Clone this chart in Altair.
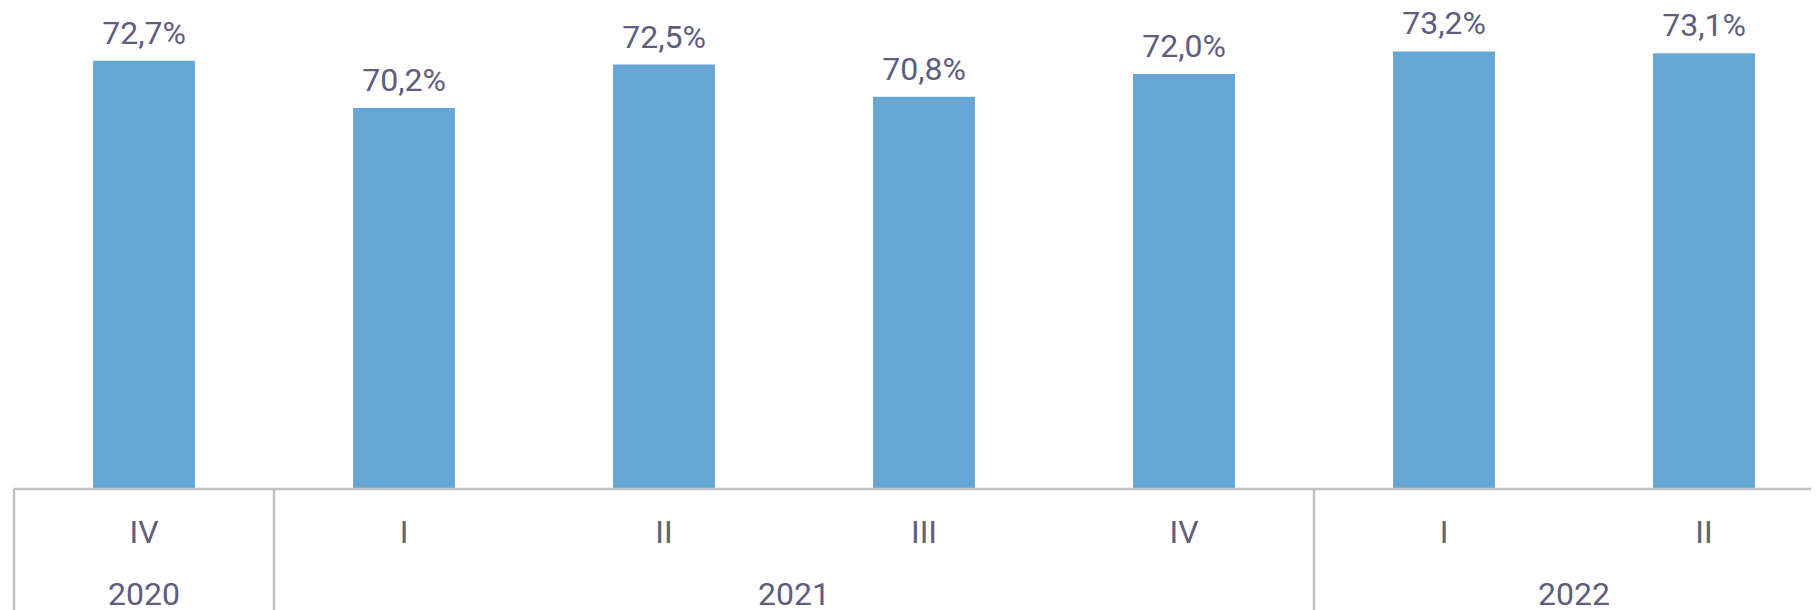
import altair as alt
import pandas as pd

quarters = ["IV", "I", "II", "III", "IV", "I", "II"]
years = ["2020", "2021", "2021", "2021", "2021", "2022", "2022"]
values = [72.7, 70.2, 72.5, 70.8, 72.0, 73.2, 73.1]
labels = ["72,7%", "70,2%", "72,5%", "70,8%", "72,0%", "73,2%", "73,1%"]

BAR = "#67a7d6"
TXT = "#5f5c7e"
LINE = "#c0c0c0"
FONT = "Roboto"

df = pd.DataFrame({"idx": list(range(len(values))), "quarter": quarters,
                   "year": years, "value": values, "label": labels})
df["x0"] = df["idx"] - 0.196
df["x1"] = df["idx"] + 0.196

yr = df.groupby("year", as_index=False).agg(center=("idx", "mean"), start=("idx", "min"), end=("idx", "max"))
yr["left"] = yr["start"] - 0.5
yr["right"] = yr["end"] + 0.5

W, H = 1797, 481
xs = alt.Scale(domain=[-0.5, 6.5], range=[0, 1820], nice=False, zero=False)
ys = alt.Scale(domain=[50, 75.5], nice=False, zero=False)

base = alt.Chart(df)

bars = base.mark_bar(color=BAR).encode(
    x=alt.X("x0:Q", scale=xs, axis=None),
    x2="x1:Q",
    y=alt.Y("value:Q", scale=ys, axis=None),
    y2=alt.datum(50),
)

vals = base.mark_text(font=FONT, fontSize=32, color=TXT, baseline="alphabetic", dy=-17).encode(
    x=alt.X("idx:Q", scale=xs),
    y=alt.Y("value:Q", scale=ys),
    text="label:N",
)

qlab = base.mark_text(font=FONT, fontSize=32, color=TXT, baseline="alphabetic").encode(
    x=alt.X("idx:Q", scale=xs),
    y=alt.value(535),
    text="quarter:N",
)

ychart = alt.Chart(yr)
ylab = ychart.mark_text(font=FONT, fontSize=32, color=TXT, baseline="alphabetic").encode(
    x=alt.X("center:Q", scale=xs),
    y=alt.value(597),
    text="year:N",
)

hline = ychart.mark_rule(color=LINE, strokeWidth=2.5).encode(
    x=alt.X("left:Q", scale=xs),
    x2="right:Q",
    y=alt.datum(50),
)

vlines = ychart.mark_rule(color=LINE, strokeWidth=2.5).encode(
    x=alt.X("left:Q", scale=xs),
    y=alt.value(481),
    y2=alt.value(610),
)

chart = alt.layer(bars, vals, hline, vlines, qlab, ylab).properties(
    width=W, height=H,
    autosize=alt.AutoSizeParams(type="none"),
    padding={"left": 6, "top": 0, "right": 0, "bottom": 121},
).configure_view(stroke=None)

chart.save("out.html", embed_options={"renderer": "svg", "actions": False})
